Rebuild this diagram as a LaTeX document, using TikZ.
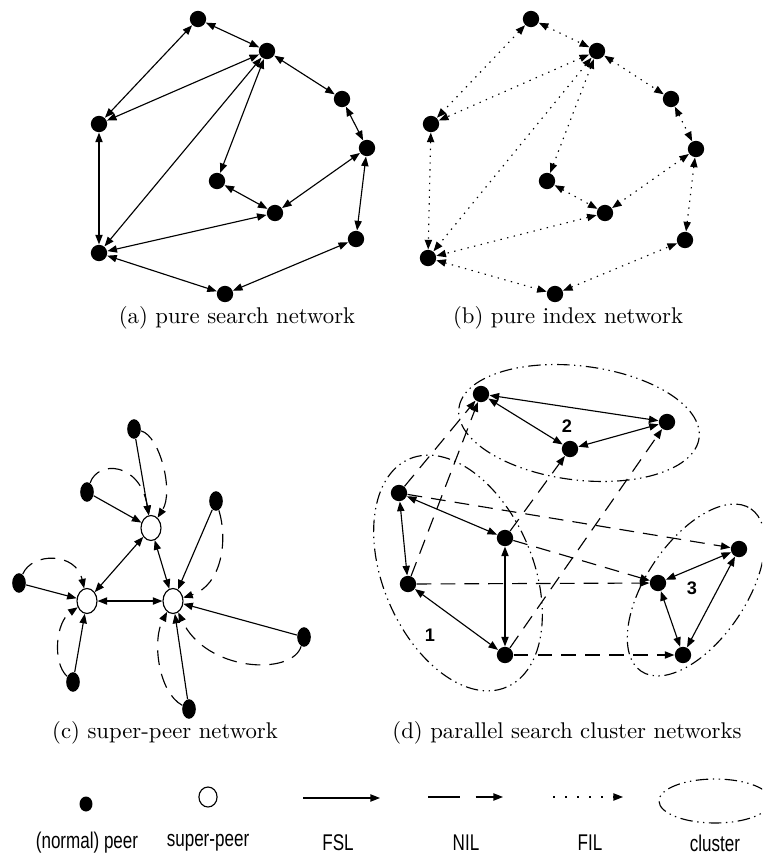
\documentclass[tikz,border=0pt]{standalone}
\usepackage{fontspec}
\newfontfamily\legendfont[FakeStretch=0.75]{Liberation Sans}
\newfontfamily\numfont{Liberation Sans}
\usepackage{tikz}
\usetikzlibrary{shapes.geometric,arrows.meta}

\begin{document}
\begin{tikzpicture}[
    x=0.44pt, y=-0.44pt,
    >={Triangle[length=4.2pt,width=3.2pt]},
    peer/.style={circle, fill=black, inner sep=0pt, minimum size=7.2pt},
    cpeer/.style={ellipse, fill=black, inner sep=0pt, minimum width=6pt, minimum height=8.6pt},
    superpeer/.style={ellipse, draw, fill=white, line width=0.5pt, inner sep=0pt,
        minimum width=8.8pt, minimum height=11pt},
    fsl/.style={->, line width=0.5pt},
    fslboth/.style={<->, line width=0.5pt},
    nil/.style={->, line width=0.5pt, dash pattern=on 6.5pt off 4pt},
    fil/.style={<->, line width=0.5pt, dash pattern=on 0.6pt off 2.4pt},
    cluster/.style={line width=0.5pt,
        dash pattern=on 5.5pt off 2pt on 0.6pt off 2pt on 0.6pt off 2pt},
    caption/.style={font=\fontsize{10}{12}\selectfont},
    legend/.style={font=\legendfont\fontsize{10}{12}\selectfont},
    clabel/.style={font=\numfont\bfseries\fontsize{8}{10}\selectfont}
]
    \path[use as bounding box, clip] (0,0) rectangle (762,859);

    % (a) pure search network
    \node[peer] (a1) at (198,19) {};
    \node[peer] (a2) at (267,51) {};
    \node[peer] (a3) at (342,99) {};
    \node[peer] (a4) at (367,148) {};
    \node[peer] (a5) at (356,239) {};
    \node[peer] (a6) at (225,294) {};
    \node[peer] (a7) at (99,253) {};
    \node[peer] (a8) at (99,124) {};
    \node[peer] (a9) at (217,181) {};
    \node[peer] (a10) at (275,213) {};

    \draw[fslboth] (a1) -- (a2);
    \draw[fslboth] (a1) -- (a8);
    \draw[fslboth] (a2) -- (a8);
    \draw[fslboth] (a2) -- (a7);
    \draw[fslboth] (a2) -- (a9);
    \draw[fslboth] (a2) -- (a3);
    \draw[fslboth] (a3) -- (a4);
    \draw[fslboth] (a4) -- (a10);
    \draw[fslboth] (a4) -- (a5);
    \draw[fslboth] (a9) -- (a10);
    \draw[fslboth] (a10) -- (a7);
    \draw[fslboth] (a8) -- (a7);
    \draw[fslboth] (a7) -- (a6);
    \draw[fslboth] (a6) -- (a5);

    \node[caption] (capa) at (237,318) {(a) pure search network};

    % (b) pure index network
    \node[peer] (b1) at (531,19) {};
    \node[peer] (b2) at (597,51) {};
    \node[peer] (b3) at (671,99) {};
    \node[peer] (b4) at (696,149) {};
    \node[peer] (b5) at (685,240) {};
    \node[peer] (b6) at (555,294) {};
    \node[peer] (b7) at (428,258) {};
    \node[peer] (b8) at (431,124) {};
    \node[peer] (b9) at (547,181) {};
    \node[peer] (b10) at (605,213) {};

    \draw[fil] (b1) -- (b2);
    \draw[fil] (b1) -- (b8);
    \draw[fil] (b2) -- (b8);
    \draw[fil] (b2) -- (b7);
    \draw[fil] (b2) -- (b9);
    \draw[fil] (b2) -- (b3);
    \draw[fil] (b3) -- (b4);
    \draw[fil] (b4) -- (b10);
    \draw[fil] (b4) -- (b5);
    \draw[fil] (b9) -- (b10);
    \draw[fil] (b10) -- (b7);
    \draw[fil] (b8) -- (b7);
    \draw[fil] (b7) -- (b6);
    \draw[fil] (b6) -- (b5);

    \node[caption] (capb) at (568,318) {(b) pure index network};

    % (c) super-peer network
    \node[superpeer] (s1) at (151,528) {};
    \node[superpeer] (s2) at (87,601) {};
    \node[superpeer] (s3) at (173,601) {};
    \node[cpeer] (p1) at (134,429) {};
    \node[cpeer] (p2) at (87,492) {};
    \node[cpeer] (p3) at (216,501) {};
    \node[cpeer] (p4) at (19,583) {};
    \node[cpeer] (p5) at (73,682) {};
    \node[cpeer] (p6) at (189,709) {};
    \node[cpeer] (p7) at (304,637) {};

    \draw[fslboth] (s1) -- (s2);
    \draw[fslboth] (s1) -- (s3);
    \draw[fslboth] (s2) -- (s3);
    \draw[fsl] (p1) -- (s1);
    \draw[fsl] (p2) -- (s1);
    \draw[fsl] (p3) -- (s3);
    \draw[fsl] (p4) -- (s2);
    \draw[fsl] (p5) -- (s2);
    \draw[fsl] (p6) -- (s3);
    \draw[fsl] (p7) -- (s3);

    \draw[nil] (p1) .. controls (160,436) and (174,492) .. (s1);
    \draw[nil] (p2) .. controls (98,460) and (140,462) .. (s1);
    \draw[nil] (p3) .. controls (228,540) and (222,585) .. (s3);
    \draw[nil] (p4) .. controls (32,552) and (76,552) .. (s2);
    \draw[nil] (p5) .. controls (52,662) and (56,622) .. (s2);
    \draw[nil] (p6) .. controls (158,692) and (152,640) .. (s3);
    \draw[nil] (p7) .. controls (292,676) and (206,672) .. (s3);

    \node[caption] (capc) at (165,733) {(c) super-peer network};

    % (d) parallel search cluster networks
    \node[peer] (d1) at (481,394) {};
    \node[peer] (d2) at (667,422) {};
    \node[peer] (d3) at (570,449) {};
    \node[peer] (d4) at (399,493) {};
    \node[peer] (d5) at (505,538) {};
    \node[peer] (d6) at (408,584) {};
    \node[peer] (d7) at (505,655) {};
    \node[peer] (d8) at (739,549) {};
    \node[peer] (d9) at (658,583) {};
    \node[peer] (d10) at (683,655) {};

    \draw[cluster, rotate around={-7:(579,423)}] (579,423) ellipse (121 and 57);
    \draw[cluster, rotate around={-67:(458,573)}] (458,573) ellipse (124 and 75);
    \draw[cluster, rotate around={56:(696,590)}] (696,590) ellipse (98 and 50);

    \node[clabel] (n1) at (430,635) {1};
    \node[clabel] (n2) at (567,426) {2};
    \node[clabel] (n3) at (692,588) {3};

    \draw[fslboth] (d1) -- (d2);
    \draw[fslboth] (d1) -- (d3);
    \draw[fslboth] (d3) -- (d2);
    \draw[fslboth] (d4) -- (d5);
    \draw[fslboth] (d4) -- (d6);
    \draw[fslboth] (d5) -- (d7);
    \draw[fslboth] (d6) -- (d7);
    \draw[fslboth] (d8) -- (d9);
    \draw[fslboth] (d9) -- (d10);
    \draw[fslboth] (d10) -- (d8);

    \draw[nil] (d4) -- (d1);
    \draw[nil] (d6) -- (d1);
    \draw[nil] (d5) -- (d3);
    \draw[nil] (d7) -- (d2);
    \draw[nil] (d4) -- (d8);
    \draw[nil] (d5) -- (d9);
    \draw[nil] (d6) -- (d9);
    \draw[nil] (d7) -- (d10);

    \node[caption] (capd) at (567,733) {(d) parallel search cluster networks};

    % Legend
    \node[ellipse, fill=black, inner sep=0pt, minimum width=5.7pt, minimum height=6.6pt] (lpeer) at (86,804) {};
    \node[superpeer, minimum width=8pt, minimum height=8.8pt] (lsuper) at (208,797) {};
    \coordinate (fslA) at (303,798);
    \coordinate (fslB) at (380,798);
    \coordinate (nilA) at (428,797);
    \coordinate (nilB) at (503,797);
    \coordinate (filA) at (553,797);
    \coordinate (filB) at (623,797);
    \draw[fsl] (fslA) -- (fslB);
    \draw[nil, dash pattern=on 14pt off 7pt] (nilA) -- (nilB);
    \draw[->, line width=0.5pt, dash pattern=on 0.8pt off 4.5pt] (filA) -- (filB);
    \draw[cluster] (715,801) ellipse (56 and 22);

    \node[legend] (tpeer) at (87,843) {(normal) peer};
    \node[legend] (tsuper) at (208,843) {super-peer};
    \node[legend] (tfsl) at (338,843) {FSL};
    \node[legend] (tnil) at (466,843) {NIL};
    \node[legend] (tfil) at (590,843) {FIL};
    \node[legend] (tcluster) at (715,843) {cluster};

\end{tikzpicture}
\end{document}
